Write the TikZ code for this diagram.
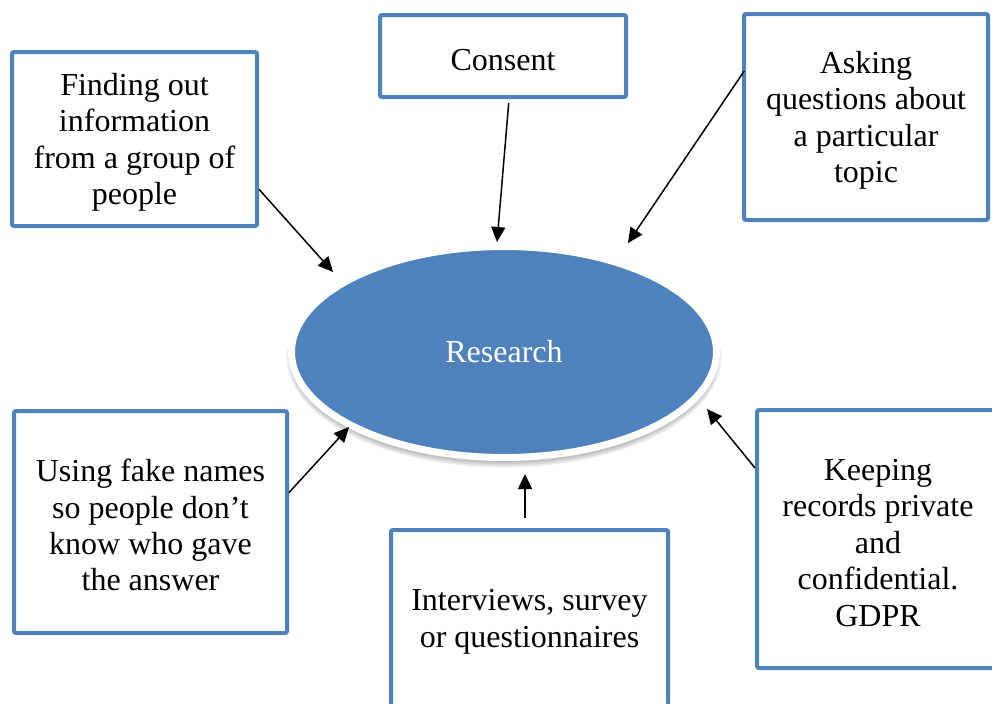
\documentclass[tikz,border=0pt]{standalone}
\usepackage{fontspec}
\setmainfont{Liberation Serif}
\usetikzlibrary{arrows.meta,shapes.geometric}
\definecolor{accent}{HTML}{4F81BD}
% strut that lowers the text block slightly inside its frame
\newcommand{\topstrut}{\rule{0pt}{14.5pt}}
\begin{document}
\begin{tikzpicture}[x=0.5pt,y=-0.5pt,
  box/.style={draw=accent, line width=2pt, fill=white, rounded corners=1pt,
    inner sep=0pt, align=center, font=\fontsize{16pt}{18.2pt}\selectfont},
  arr/.style={line width=0.75pt, -{Triangle[length=7.5pt,width=7pt]}}]
  \useasboundingbox (0,0) rectangle (992,703);
  \clip (0,0) rectangle (992,703);

  % soft shadow under the central ellipse
  \foreach \k in {0,0.8,1.6,2.4,3.2}
    \fill[black, opacity=0.07] (504,357) ellipse [x radius=105.5pt+\k pt, y radius=52pt+\k pt];

  % central topic
  \node[ellipse, fill=accent, draw=white, line width=3.5pt, inner sep=0pt,
        minimum width=212.5pt, minimum height=105.5pt,
        text=white, font=\fontsize{16pt}{18.2pt}\selectfont]
        (res) at (504,352) {Research};

  % surrounding boxes
  \node[box, minimum width=122.5pt, minimum height=87pt] (find) at (134.5,139)
    {\topstrut Finding out\\information\\from a group of\\people};
  \node[box, minimum width=123pt, minimum height=41pt] (cons) at (503,56)
    {\topstrut Consent};
  \node[box, minimum width=122pt, minimum height=103pt] (ask) at (866,117)
    {\topstrut Asking\\questions about\\a particular\\topic};
  \node[box, minimum width=136.5pt, minimum height=111pt] (fake) at (150.5,522)
    {\topstrut Using fake names\\so people don’t\\know who gave\\the answer};
  \node[box, minimum width=138.5pt, minimum height=88pt] (intv) at (529.5,618)
    {\topstrut Interviews, survey\\or questionnaires};
  \node[box, minimum width=121pt, minimum height=129pt] (keep) at (878,539)
    {\topstrut Keeping\\records private\\and\\confidential.\\GDPR};

  % arrow tips near the ellipse
  \coordinate (t1) at (333,272);
  \coordinate (t2) at (497,242);
  \coordinate (t3) at (628,243);
  \coordinate (t4) at (349,427);
  \coordinate (t5) at (525,474);
  \coordinate (t6) at (707,409);

  % connectors
  \draw[arr] (find.-22.2) -- (t1);
  \draw[arr, shorten <=2pt] (cons.-82.4) -- (t2);
  \draw[arr, shorten <=-2pt] (ask.161.5) -- (t3);
  \draw[arr] (fake.12.4) -- (t4);
  \draw[arr] ([xshift=-2.25pt,yshift=5pt]intv.north) -- (t5);
  \draw[arr] (keep.150.7) -- (t6);
\end{tikzpicture}
\end{document}
